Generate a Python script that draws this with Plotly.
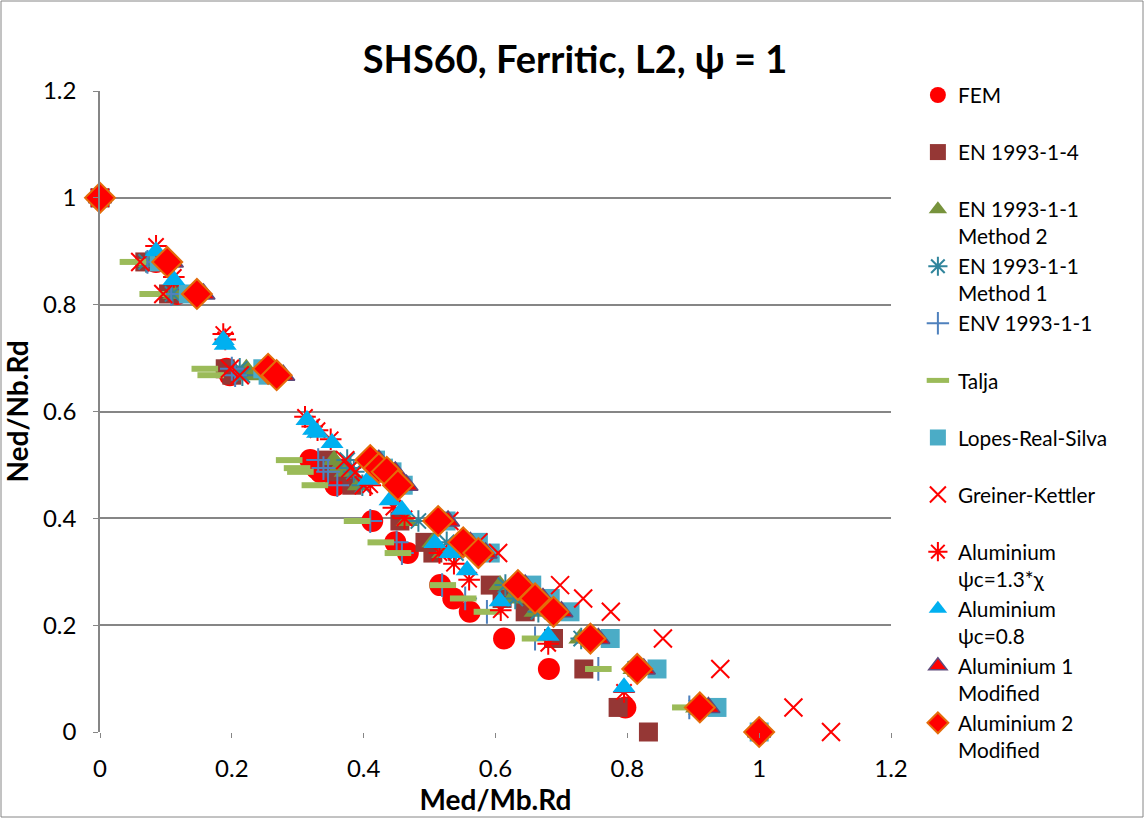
import plotly.graph_objects as go

# Common load levels (Ned/Nb.Rd)
y_common = [1, 0.88, 0.82, 0.68, 0.668, 0.509, 0.494, 0.487, 0.462, 0.395, 0.355,
            0.335, 0.275, 0.25, 0.225, 0.175, 0.118, 0.046, 0]

x_fem = [0, 0.085, 0.117, 0.192, 0.197, 0.319, 0.328, 0.334, 0.357, 0.413, 0.448,
         0.467, 0.516, 0.536, 0.561, 0.613, 0.681, 0.797, 1.0]
x_en14 = [0, 0.068, 0.104, 0.19, 0.2, 0.345, 0.352, 0.36, 0.382, 0.455, 0.493,
          0.505, 0.592, 0.61, 0.645, 0.688, 0.734, 0.786, 0.832]
x_m2 = [0, 0.075, 0.112, 0.222, 0.228, 0.355, 0.362, 0.372, 0.392, 0.466, 0.505,
        0.52, 0.607, 0.625, 0.66, 0.728, 0.81, 0.905, 1.0]
x_m1 = [0, 0.07, 0.11, 0.212, 0.216, 0.375, 0.38, 0.385, 0.398, 0.483, 0.526,
        0.54, 0.615, 0.63, 0.665, 0.73, 0.812, 0.905, 1.0]
x_env = [0, 0.072, 0.108, 0.2, 0.205, 0.331, 0.339, 0.346, 0.36, 0.41, 0.45,
         0.458, 0.519, 0.554, 0.587, 0.66, 0.756, 0.894, 1.0]
x_talja = [0, 0.05, 0.08, 0.159, 0.168, 0.287, 0.299, 0.304, 0.326, 0.39, 0.426,
           0.452, 0.52, 0.551, 0.587, 0.66, 0.756, 0.888, 1.0]
x_lopes = [0, 0.09, 0.134, 0.247, 0.255, 0.418, 0.43, 0.443, 0.46, 0.525, 0.574,
           0.592, 0.655, 0.683, 0.713, 0.774, 0.845, 0.936, 1.0]
x_gk = [0, 0.061, 0.096, 0.197, 0.212, 0.372, 0.38, 0.388, 0.40, 0.53, 0.574,
        0.604, 0.698, 0.733, 0.775, 0.854, 0.941, 1.052, 1.109]
x_alu1 = [0, 0.109, 0.157, 0.262, 0.278, 0.423, 0.436, 0.448, 0.465, 0.528, 0.562,
          0.585, 0.645, 0.672, 0.70, 0.756, 0.825, 0.923, 1.0]
x_alu2 = [0, 0.102, 0.147, 0.255, 0.268, 0.41, 0.423, 0.435, 0.452, 0.513, 0.551,
          0.574, 0.634, 0.66, 0.688, 0.744, 0.815, 0.91, 1.0]

# Aluminium psi_c = 0.8
x_a08 = [0, 0.085, 0.112, 0.187, 0.19, 0.314, 0.324, 0.33, 0.352, 0.407, 0.44,
         0.458, 0.508, 0.531, 0.557, 0.607, 0.68, 0.795, 1.0]
y_a08 = [1, 0.90, 0.846, 0.734, 0.725, 0.584, 0.566, 0.56, 0.541, 0.472, 0.434,
         0.416, 0.354, 0.335, 0.303, 0.245, 0.18, 0.084, 0]
# Aluminium psi_c = 1.3*chi
x_a13 = [0, 0.085, 0.112, 0.187, 0.19, 0.311, 0.322, 0.33, 0.35, 0.41, 0.445,
         0.462, 0.515, 0.537, 0.56, 0.608, 0.68, 0.795, 1.0]
y_a13 = [1, 0.91, 0.852, 0.745, 0.735, 0.59, 0.572, 0.565, 0.548, 0.462, 0.42,
         0.40, 0.335, 0.315, 0.285, 0.228, 0.165, 0.075, 0]

x_ticks = [0, 0.2, 0.4, 0.6, 0.8, 1, 1.2]
x_ticklabels = ["0", "0.2", "0.4", "0.6", "0.8", "1", "1.2"]
y_ticks = [0, 0.2, 0.4, 0.6, 0.8, 1, 1.2]
y_ticklabels = ["0", "0.2", "0.4", "0.6", "0.8", "1", "1.2"]

NB = "<br>\u00a0"
series = [
    ("FEM" + NB, x_fem, y_common, dict(symbol="circle", size=22, color="#FF0000")),
    ("EN 1993-1-4" + NB, x_en14, y_common, dict(symbol="square", size=19, color="#953735")),
    ("EN 1993-1-1<br>Method 2", x_m2, y_common, dict(symbol="triangle-up", size=20, color="#77933C")),
    ("EN 1993-1-1<br>Method 1", x_m1, y_common, dict(symbol="asterisk-open", size=18, color="#31859C",
                                                      line=dict(width=2, color="#31859C"))),
    ("ENV 1993-1-1" + NB, x_env, y_common, dict(symbol="cross-thin-open", size=17, color="#4F81BD",
                                                line=dict(width=2, color="#4F81BD"))),
    ("Talja" + NB, x_talja, y_common, dict(symbol="line-ew-open", size=19, color="#9BBB59",
                                           line=dict(width=6, color="#9BBB59"))),
    ("Lopes-Real-Silva" + NB, x_lopes, y_common, dict(symbol="square", size=19, color="#4BACC6")),
    ("Greiner-Kettler" + NB, x_gk, y_common, dict(symbol="x-thin-open", size=18, color="#FF0000",
                                                  line=dict(width=2, color="#FF0000"))),
    ("Aluminium<br>ψc=1.3*χ", x_a13, y_a13, dict(symbol="asterisk-open", size=18, color="#FF0000",
                                                 line=dict(width=2, color="#FF0000"))),
    ("Aluminium<br>ψc=0.8", x_a08, y_a08, dict(symbol="triangle-up", size=20, color="#00B0F0")),
    ("Aluminium 1<br>Modified", x_alu1, y_common, dict(symbol="triangle-up", size=20, color="#FF0000",
                                                        line=dict(width=1.5, color="#604A7B"))),
    ("Aluminium 2<br>Modified", x_alu2, y_common, dict(symbol="diamond", size=23, color="#FF0000",
                                                        line=dict(width=2, color="#E46C0A"))),
]

fig = go.Figure()
for i, (name, xs, ys, mk) in enumerate(series):
    fig.add_trace(go.Scatter(x=xs, y=ys, mode="markers", name=name, marker=mk,
                             legendgroup="g%d" % i, cliponaxis=False))

FONT = "Lato, 'Open Sans', sans-serif"
fig.update_layout(
    width=1144, height=818,
    margin=dict(l=100, r=253, t=91, b=86, autoexpand=False),
    paper_bgcolor="white", plot_bgcolor="white",
    font=dict(family=FONT, size=22, color="black"),
    title=dict(text="<b>SHS60, Ferritic, L2, ψ = 1</b>", x=0.5027, xanchor="center",
               xref="container", y=0.927, yanchor="middle", font=dict(size=38, family=FONT)),
    showlegend=True,
    legend=dict(x=1.034, xanchor="left", y=1.025, yanchor="top", valign="top",
                tracegroupgap=0, font=dict(size=20.8, family=FONT), maxheight=800,
                bgcolor="rgba(0,0,0,0)", itemsizing="trace"),
    xaxis=dict(range=[0, 1.2], tickvals=x_ticks, ticktext=x_ticklabels,
               showgrid=False, zeroline=False, showline=False,
               ticks="outside", ticklen=5, tickcolor="#868686", ticklabelstandoff=10,
               title=dict(text="<b>Med/Mb.Rd</b>", font=dict(size=28), standoff=8),
               tickfont=dict(size=24)),
    yaxis=dict(range=[0, 1.2], tickvals=y_ticks, ticktext=y_ticklabels,
               showgrid=True, gridcolor="#868686", gridwidth=1.5,
               zeroline=False, showline=True, linecolor="#868686", linewidth=1.5,
               ticks="outside", ticklen=5, tickcolor="#868686", ticklabelstandoff=12,
               title=dict(text="<b>Ned/Nb.Rd</b>", font=dict(size=28), standoff=10),
               tickfont=dict(size=24)),
)
# chart-area border
fig.add_shape(type="rect", xref="paper", yref="paper",
              x0=-99 / 791, x1=1142 / 791 - 99 / 791, y0=-85 / 641, y1=1 + 90 / 641,
              line=dict(color="#868686", width=1), layer="below")

fig.write_html("out.html", config={"displayModeBar": False},
               post_script="document.body.style.margin='0';")
